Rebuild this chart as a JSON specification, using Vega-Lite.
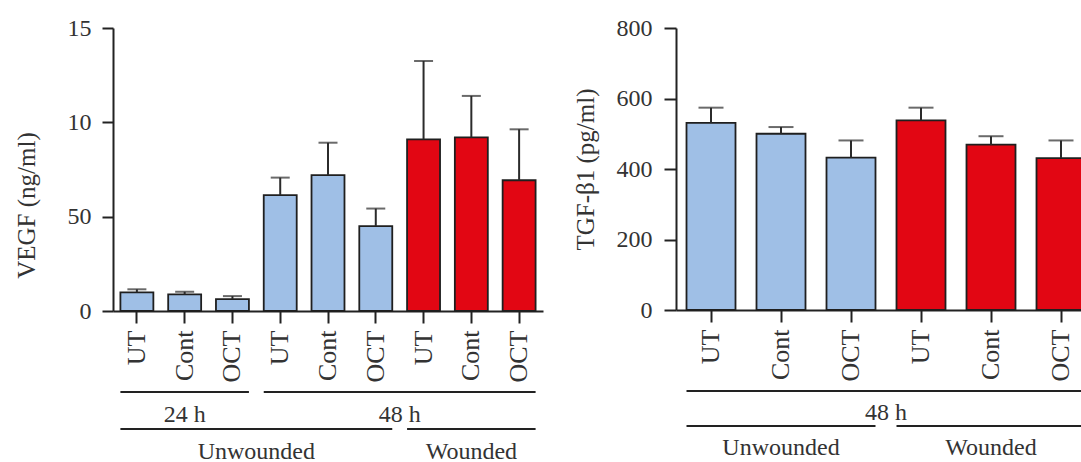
{
  "$schema": "https://vega.github.io/schema/vega-lite/v6.json",
  "background": "white",
  "padding": {"left": 14, "top": 16, "right": 0, "bottom": 0},
  "config": {
    "view": {"stroke": null},
    "font": "Liberation Serif",
    "axis": {
      "domainColor": "#222222",
      "domainWidth": 2,
      "tickColor": "#222222",
      "tickWidth": 2,
      "grid": false,
      "labelFont": "Liberation Serif",
      "labelColor": "#333333",
      "labelFontSize": 24,
      "titleFont": "Liberation Serif",
      "titleColor": "#333333",
      "titleFontSize": 25,
      "titleFontWeight": "normal"
    }
  },
  "datasets": {
    "vegf": [
      {"id": "24 h|Unwounded|UT", "state": "Unwounded", "mean": 0.99, "upper": 1.15},
      {"id": "24 h|Unwounded|Cont", "state": "Unwounded", "mean": 0.88, "upper": 1.02},
      {"id": "24 h|Unwounded|OCT", "state": "Unwounded", "mean": 0.63, "upper": 0.79},
      {"id": "48 h|Unwounded|UT", "state": "Unwounded", "mean": 6.14, "upper": 7.07},
      {"id": "48 h|Unwounded|Cont", "state": "Unwounded", "mean": 7.2, "upper": 8.92},
      {"id": "48 h|Unwounded|OCT", "state": "Unwounded", "mean": 4.5, "upper": 5.43},
      {"id": "48 h|Wounded|UT", "state": "Wounded", "mean": 9.1, "upper": 13.25},
      {"id": "48 h|Wounded|Cont", "state": "Wounded", "mean": 9.2, "upper": 11.4},
      {"id": "48 h|Wounded|OCT", "state": "Wounded", "mean": 6.93, "upper": 9.63}
    ],
    "vegfGroups": [
      {"level": 1, "label": "24 h", "from": "24 h|Unwounded|UT", "to": "24 h|Unwounded|OCT", "centre": "24 h|Unwounded|Cont", "between": false},
      {"level": 1, "label": "48 h", "from": "48 h|Unwounded|UT", "to": "48 h|Wounded|OCT", "centre": "48 h|Unwounded|OCT", "between": true},
      {"level": 2, "label": "Unwounded", "from": "24 h|Unwounded|UT", "to": "48 h|Unwounded|OCT", "centre": "24 h|Unwounded|OCT", "between": true},
      {"level": 2, "label": "Wounded", "from": "48 h|Wounded|UT", "to": "48 h|Wounded|OCT", "centre": "48 h|Wounded|Cont", "between": false}
    ],
    "tgf": [
      {"id": "48 h|Unwounded|UT", "state": "Unwounded", "mean": 531, "upper": 574},
      {"id": "48 h|Unwounded|Cont", "state": "Unwounded", "mean": 500, "upper": 519},
      {"id": "48 h|Unwounded|OCT", "state": "Unwounded", "mean": 432, "upper": 481},
      {"id": "48 h|Wounded|UT", "state": "Wounded", "mean": 538, "upper": 574},
      {"id": "48 h|Wounded|Cont", "state": "Wounded", "mean": 469, "upper": 493},
      {"id": "48 h|Wounded|OCT", "state": "Wounded", "mean": 431, "upper": 481}
    ],
    "tgfGroups": [
      {"level": 1, "label": "48 h", "from": "48 h|Unwounded|UT", "to": "48 h|Wounded|OCT", "centre": "48 h|Unwounded|OCT", "between": true},
      {"level": 2, "label": "Unwounded", "from": "48 h|Unwounded|UT", "to": "48 h|Unwounded|OCT", "centre": "48 h|Unwounded|Cont", "between": false},
      {"level": 2, "label": "Wounded", "from": "48 h|Wounded|UT", "to": "48 h|Wounded|OCT", "centre": "48 h|Wounded|Cont", "between": false}
    ]
  },
  "spacing": 30,
  "hconcat": [
    {
      "spacing": 9,
      "resolve": {"scale": {"x": "shared"}},
      "vconcat": [
        {
          "width": 430,
          "height": 283,
          "data": {"name": "vegf"},
          "encoding": {
            "x": {
              "field": "id",
              "type": "nominal",
              "sort": null,
              "scale": {
                "domain": ["24 h|Unwounded|UT", "24 h|Unwounded|Cont", "24 h|Unwounded|OCT", "48 h|Unwounded|UT", "48 h|Unwounded|Cont", "48 h|Unwounded|OCT", "48 h|Wounded|UT", "48 h|Wounded|Cont", "48 h|Wounded|OCT"],
                "paddingInner": 0.31
              },
              "axis": {
                "title": null,
                "labelAngle": 270,
                "labelPadding": 7,
                "labelFontSize": 26,
                "tickSize": 12,
                "labelExpr": "split(datum.value, '|')[2]"
              }
            }
          },
          "layer": [
            {
              "mark": {"type": "bar", "stroke": "#1f1f1f", "strokeWidth": 1.8},
              "encoding": {
                "y": {
                  "field": "mean",
                  "type": "quantitative",
                  "scale": {"domain": [0, 15], "nice": false},
                  "axis": {
                    "title": "VEGF (ng/ml)",
                    "values": [0, 5, 10, 15],
                    "labelExpr": "datum.value == 5 ? '50' : datum.label",
                    "tickSize": 11,
                    "labelPadding": 11,
                    "titlePadding": 28,
                    "titleY": 177
                  }
                },
                "fill": {
                  "field": "state",
                  "type": "nominal",
                  "scale": {"domain": ["Unwounded", "Wounded"], "range": ["#9fbfe6", "#e20613"]},
                  "legend": null
                }
              }
            },
            {
              "mark": {"type": "rule", "stroke": "#2b2b2b", "strokeWidth": 2},
              "encoding": {
                "y": {"field": "mean", "type": "quantitative"},
                "y2": {"field": "upper"}
              }
            },
            {
              "mark": {"type": "tick", "color": "#2b2b2b", "thickness": 2, "size": 19},
              "encoding": {
                "y": {"field": "upper", "type": "quantitative"}
              }
            }
          ]
        },
        {
          "width": 430,
          "height": 37,
          "data": {"name": "vegfGroups"},
          "encoding": {
            "y": {
              "field": "level",
              "type": "ordinal",
              "scale": {"type": "point", "domain": [1, 2], "padding": 0},
              "axis": null
            }
          },
          "layer": [
            {
              "mark": {"type": "rule", "stroke": "#222222", "strokeWidth": 1.8},
              "encoding": {
                "x": {
                  "field": "from",
                  "type": "nominal",
                  "bandPosition": 0,
                  "axis": null,
                  "scale": {
                    "domain": ["24 h|Unwounded|UT", "24 h|Unwounded|Cont", "24 h|Unwounded|OCT", "48 h|Unwounded|UT", "48 h|Unwounded|Cont", "48 h|Unwounded|OCT", "48 h|Wounded|UT", "48 h|Wounded|Cont", "48 h|Wounded|OCT"],
                    "paddingInner": 0.31
                  }
                },
                "x2": {"field": "to", "bandPosition": 1}
              }
            },
            {
              "transform": [{"filter": "!datum.between"}],
              "mark": {"type": "text", "fontSize": 24, "color": "#333333", "dy": 30, "baseline": "alphabetic", "align": "center"},
              "encoding": {
                "x": {"field": "centre", "type": "nominal", "bandPosition": 0.5, "axis": null},
                "text": {"field": "label"}
              }
            },
            {
              "transform": [{"filter": "datum.between"}],
              "mark": {"type": "text", "fontSize": 24, "color": "#333333", "dy": 30, "baseline": "alphabetic", "align": "center"},
              "encoding": {
                "x": {"field": "centre", "type": "nominal", "bandPosition": 1.225, "axis": null},
                "text": {"field": "label"}
              }
            }
          ]
        }
      ]
    },
    {
      "spacing": 9,
      "resolve": {"scale": {"x": "shared"}},
      "vconcat": [
        {
          "width": 420,
          "height": 282,
          "data": {"name": "tgf"},
          "encoding": {
            "x": {
              "field": "id",
              "type": "nominal",
              "sort": null,
              "scale": {
                "domain": ["48 h|Unwounded|UT", "48 h|Unwounded|Cont", "48 h|Unwounded|OCT", "48 h|Wounded|UT", "48 h|Wounded|Cont", "48 h|Wounded|OCT"],
                "paddingInner": 0.3
              },
              "axis": {
                "title": null,
                "labelAngle": 270,
                "labelPadding": 7,
                "labelFontSize": 26,
                "tickSize": 12,
                "labelExpr": "split(datum.value, '|')[2]"
              }
            }
          },
          "layer": [
            {
              "mark": {"type": "bar", "stroke": "#1f1f1f", "strokeWidth": 1.8},
              "encoding": {
                "y": {
                  "field": "mean",
                  "type": "quantitative",
                  "scale": {"domain": [0, 800], "nice": false},
                  "axis": {
                    "title": "TGF-β1 (pg/ml)",
                    "values": [0, 200, 400, 600, 800],
                    "tickSize": 12,
                    "labelPadding": 12,
                    "titlePadding": 18
                  }
                },
                "fill": {
                  "field": "state",
                  "type": "nominal",
                  "scale": {"domain": ["Unwounded", "Wounded"], "range": ["#9fbfe6", "#e20613"]},
                  "legend": null
                }
              }
            },
            {
              "mark": {"type": "rule", "stroke": "#2b2b2b", "strokeWidth": 2},
              "encoding": {
                "y": {"field": "mean", "type": "quantitative"},
                "y2": {"field": "upper"}
              }
            },
            {
              "mark": {"type": "tick", "color": "#2b2b2b", "thickness": 2, "size": 25},
              "encoding": {
                "y": {"field": "upper", "type": "quantitative"}
              }
            }
          ]
        },
        {
          "width": 420,
          "height": 35,
          "data": {"name": "tgfGroups"},
          "encoding": {
            "y": {
              "field": "level",
              "type": "ordinal",
              "scale": {"type": "point", "domain": [1, 2], "padding": 0},
              "axis": null
            }
          },
          "layer": [
            {
              "mark": {"type": "rule", "stroke": "#222222", "strokeWidth": 1.8},
              "encoding": {
                "x": {
                  "field": "from",
                  "type": "nominal",
                  "bandPosition": 0,
                  "axis": null,
                  "scale": {
                    "domain": ["48 h|Unwounded|UT", "48 h|Unwounded|Cont", "48 h|Unwounded|OCT", "48 h|Wounded|UT", "48 h|Wounded|Cont", "48 h|Wounded|OCT"],
                    "paddingInner": 0.3
                  }
                },
                "x2": {"field": "to", "bandPosition": 1}
              }
            },
            {
              "transform": [{"filter": "!datum.between"}],
              "mark": {"type": "text", "fontSize": 24, "color": "#333333", "dy": 29, "baseline": "alphabetic", "align": "center"},
              "encoding": {
                "x": {"field": "centre", "type": "nominal", "bandPosition": 0.5, "axis": null},
                "text": {"field": "label"}
              }
            },
            {
              "transform": [{"filter": "datum.between"}],
              "mark": {"type": "text", "fontSize": 24, "color": "#333333", "dy": 29, "baseline": "alphabetic", "align": "center"},
              "encoding": {
                "x": {"field": "centre", "type": "nominal", "bandPosition": 1.214, "axis": null},
                "text": {"field": "label"}
              }
            }
          ]
        }
      ]
    }
  ]
}
